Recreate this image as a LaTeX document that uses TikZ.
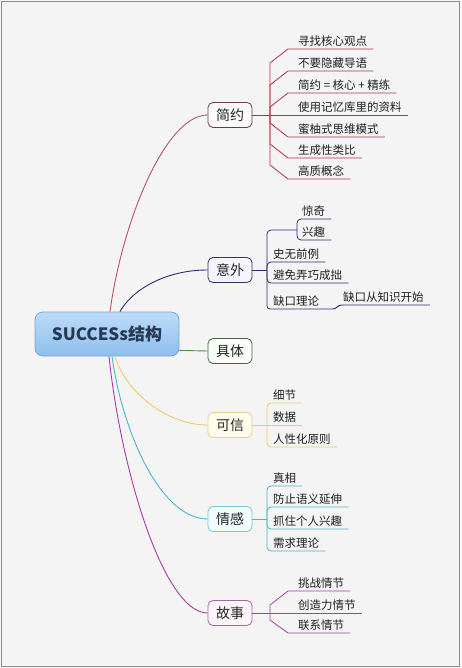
\documentclass[tikz,border=0pt]{standalone}
\usepackage{fontspec}
\setmainfont{Noto Sans CJK SC}
\usetikzlibrary{calc}
\definecolor{bgc}{HTML}{F4F4F4}
\definecolor{framec}{HTML}{8C8C8C}
\definecolor{jyc}{HTML}{B03444}
\definecolor{jyb}{HTML}{6E3A40}
\definecolor{ywc}{HTML}{2C2C72}
\definecolor{ywb}{HTML}{34345E}
\definecolor{jtc}{HTML}{5A8A4A}
\definecolor{jtb}{HTML}{3F6A3A}
\definecolor{kxc}{HTML}{EFCB6A}
\definecolor{kxb}{HTML}{E6CF86}
\definecolor{qgc}{HTML}{48B6CC}
\definecolor{qgb}{HTML}{7CC6D6}
\definecolor{gsc}{HTML}{A63EA6}
\definecolor{gsb}{HTML}{A566A5}
\definecolor{ctop}{HTML}{BCDBF8}
\definecolor{cbot}{HTML}{8EBFEE}
\definecolor{cbd}{HTML}{7AA6D6}
\definecolor{ctext}{HTML}{263852}
\begin{document}
\begin{tikzpicture}[x=1pt,y=-1pt,
  mainnode/.style={rounded corners=5pt, minimum width=44pt, minimum height=25pt,
    inner sep=0pt, line width=0.8pt, font=\fontsize{14}{16}\selectfont, text=black!85},
  leaf/.style={anchor=south west, inner xsep=2pt, inner ysep=3.5pt, text depth=0pt,
    font=\fontsize{11.5}{13}\selectfont, text=black!88},
  br/.style={line width=0.8pt},
  curve/.style={line width=0.9pt}]
\useasboundingbox (0,0) rectangle (461,668);
\fill[bgc] (0,0) rectangle (461,668);
\draw[framec, line width=1pt] (1.5,1.5) rectangle (459.5,666.5);

% central node
\node[rounded corners=8pt, top color=ctop, bottom color=cbot, draw=cbd, line width=0.8pt,
  minimum width=144pt, minimum height=44pt, inner sep=0pt, text=ctext,
  font=\fontsize{17}{19}\selectfont\bfseries] (c) at (107,334) {SUCCESs结构};

% main nodes
\node[mainnode, draw=jyb, fill=white!97!gray] (jy) at (230,115) {简约};
\node[mainnode, draw=ywb, fill=white!96!blue] (yw) at (230,270) {意外};
\node[mainnode, draw=jtb, fill=green!3!white] (jt) at (230,351) {具体};
\node[mainnode, draw=kxb, fill=yellow!7!white] (kx) at (230,425) {可信};
\node[mainnode, draw=qgb, fill=cyan!5!white] (qg) at (230,519) {情感};
\node[mainnode, draw=gsb, fill=magenta!4!white] (gs) at (230,613) {故事};

% main curves
\draw[curve, jyc!85] ($(c.north)+(3,0)$) .. controls (122,223) and (165,115) .. (jy.west);
\draw[curve, ywc] ($(c.north)+(13,0)$) .. controls (132,290) and (165,270) .. (yw.west);
\draw[curve, jtc] ($(c.south east)+(0,-6)$) -- (jt.west);
\draw[curve, kxc] ($(c.south)+(8,0)$) .. controls (125,390) and (165,425) .. (kx.west);
\draw[curve, qgc] ($(c.south)+(5,0)$) .. controls (122,430) and (160,519) .. (qg.west);
\draw[curve, gsc] ($(c.south)+(2,0)$) .. controls (121,471) and (164,613) .. (gs.west);

% ---- 简约
\coordinate (j1) at (270,115);
\draw[br, jyc] (jy.east) -- (j1);
\node[leaf] (a1) at (296,49) {寻找核心观点};
\node[leaf] (a2) at (296,71) {不要隐藏导语};
\node[leaf] (a3) at (296,93) {简约 = 核心 + 精练};
\node[leaf] (a4) at (296,115) {使用记忆库里的资料};
\node[leaf] (a5) at (296,137) {蜜柚式思维模式};
\node[leaf] (a6) at (296,158) {生成性类比};
\node[leaf] (a7) at (296,179) {高质概念};
\draw[br, jyc] (j1) -- (270,63) -- ($(a1.south west)+(-8,0)$) -- ($(a1.south east)+(4,0)$);
\draw[br, jyc] (j1) -- (270,85) -- ($(a2.south west)+(-8,0)$) -- ($(a2.south east)+(4,0)$);
\draw[br, jyc] (j1) -- (270,107) -- ($(a3.south west)+(-8,0)$) -- ($(a3.south east)+(4,0)$);
\draw[br, jyc] (j1) -- ($(a4.south east)+(4,0)$);
\draw[br, jyc] (j1) -- (270,123) -- ($(a5.south west)+(-8,0)$) -- ($(a5.south east)+(4,0)$);
\draw[br, jyc] (j1) -- (270,144) -- ($(a6.south west)+(-8,0)$) -- ($(a6.south east)+(4,0)$);
\draw[br, jyc] (j1) -- (270,165) -- ($(a7.south west)+(-8,0)$) -- ($(a7.south east)+(4,0)$);

% ---- 意外
\coordinate (j2) at (267,270);
\coordinate (k1) at (297,230);
\draw[br, ywc] (yw.east) -- (j2);
\node[leaf] (b1) at (300,219) {惊奇};
\node[leaf] (b2) at (300,240) {兴趣};
\node[leaf] (b3) at (271,262) {史无前例};
\node[leaf] (b4) at (271,283) {避免弄巧成拙};
\node[leaf] (b5) at (271,309) {缺口理论};
\node[leaf] (b6) at (341,305) {缺口从知识开始};
\draw[br, ywc, rounded corners=4pt] (j2) |- (k1);
\draw[br, ywc, rounded corners=4pt] (k1) |- ($(b1.south east)+(4,0)$);
\draw[br, ywc, rounded corners=4pt] (k1) |- ($(b2.south east)+(4,0)$);
\draw[br, ywc, rounded corners=4pt] (j2) |- ($(b3.south east)+(4,0)$);
\draw[br, ywc, rounded corners=4pt] (j2) |- ($(b4.south east)+(4,0)$);
\draw[br, ywc, rounded corners=3pt] (j2) |- ($(b5.south east)+(14,0)$) -- ($(b6.south west)+(-2,0)$) -- ($(b6.south east)+(4,0)$);

% ---- 可信
\coordinate (j3) at (267,425);
\draw[br, kxc] (kx.east) -- (j3);
\node[leaf] (d1) at (271,403) {细节};
\node[leaf] (d2) at (271,425) {数据};
\node[leaf] (d3) at (271,447) {人性化原则};
\draw[br, kxc, rounded corners=4pt] (j3) |- ($(d1.south east)+(4,0)$);
\draw[br, kxc] (j3) -- ($(d2.south east)+(4,0)$);
\draw[br, kxc, rounded corners=4pt] (j3) |- ($(d3.south east)+(4,0)$);

% ---- 情感
\coordinate (j4) at (267,519);
\draw[br, qgc] (qg.east) -- (j4);
\node[leaf] (e1) at (271,486) {真相};
\node[leaf] (e2) at (271,507) {防止语义延伸};
\node[leaf] (e3) at (271,529) {抓住个人兴趣};
\node[leaf] (e4) at (271,551) {需求理论};
\draw[br, qgc, rounded corners=4pt] (j4) |- ($(e1.south east)+(4,0)$);
\draw[br, qgc, rounded corners=4pt] (j4) |- ($(e2.south east)+(4,0)$);
\draw[br, qgc, rounded corners=4pt] (j4) |- ($(e3.south east)+(4,0)$);
\draw[br, qgc, rounded corners=4pt] (j4) |- ($(e4.south east)+(4,0)$);

% ---- 故事
\coordinate (j5) at (270,613);
\draw[br, gsc] (gs.east) -- (j5);
\node[leaf] (f1) at (296,591) {挑战情节};
\node[leaf] (f2) at (296,613) {创造力情节};
\node[leaf] (f3) at (296,633) {联系情节};
\draw[br, gsc] (j5) -- (270,605) -- ($(f1.south west)+(-8,0)$) -- ($(f1.south east)+(4,0)$);
\draw[br, gsc] (j5) -- ($(f2.south east)+(4,0)$);
\draw[br, gsc] (j5) -- (270,620) -- ($(f3.south west)+(-8,0)$) -- ($(f3.south east)+(4,0)$);
\end{tikzpicture}
\end{document}
